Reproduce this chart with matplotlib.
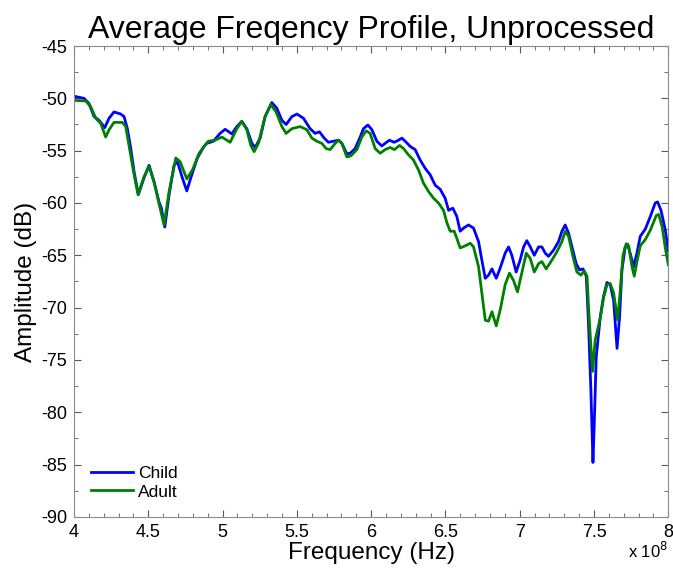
import numpy as np
import matplotlib
matplotlib.use("Agg")
import matplotlib.pyplot as plt
from matplotlib.ticker import MultipleLocator

plt.rcParams['font.family'] = ['Liberation Sans', 'DejaVu Sans']
plt.rcParams['axes.unicode_minus'] = False

# frequency in units of 1e8 Hz, amplitude in dB
child_f = [4.000, 4.067, 4.101, 4.135, 4.168, 4.207, 4.236, 4.269, 4.314, 4.337,
           4.359, 4.382, 4.404, 4.433, 4.471, 4.505, 4.539, 4.572, 4.588, 4.611,
           4.640, 4.673, 4.696, 4.729, 4.759, 4.786, 4.830, 4.875, 4.894, 4.938,
           4.983, 5.017, 5.062, 5.096, 5.129, 5.163, 5.197, 5.219, 5.253, 5.286,
           5.331, 5.365, 5.399, 5.428, 5.466, 5.500, 5.544, 5.589, 5.623, 5.652,
           5.684, 5.712, 5.746, 5.780, 5.803, 5.836, 5.859, 5.892, 5.926, 5.948,
           5.978, 6.005, 6.038, 6.072, 6.094, 6.123, 6.155, 6.184, 6.207, 6.236,
           6.263, 6.296, 6.330, 6.364, 6.397, 6.431, 6.465, 6.498, 6.521, 6.550,
           6.577, 6.599, 6.622, 6.655, 6.689, 6.723, 6.745, 6.768, 6.790, 6.813,
           6.842, 6.869, 6.902, 6.925, 6.947, 6.976, 7.003, 7.026, 7.048, 7.071,
           7.098, 7.127, 7.149, 7.172, 7.194, 7.228, 7.261, 7.284, 7.306, 7.329,
           7.352, 7.380, 7.403, 7.426, 7.448, 7.463, 7.479, 7.493, 7.502, 7.515,
           7.542, 7.564, 7.587, 7.609, 7.632, 7.655, 7.672, 7.688, 7.710, 7.726,
           7.749, 7.766, 7.789, 7.811, 7.845, 7.879, 7.912, 7.928, 7.951, 7.980,
           8.000]
child_db = [-49.8, -50.0, -50.5, -51.75, -52.1, -52.8, -51.9, -51.3, -51.5, -51.75,
            -52.9, -54.8, -57.0, -59.2, -57.6, -56.4, -58.0, -59.9, -60.5, -62.3,
            -59.2, -56.4, -56.05, -57.6, -58.85, -57.6, -55.7, -54.6, -54.3, -54.1,
            -53.35, -52.96, -53.4, -52.7, -52.2, -52.9, -54.3, -54.7, -53.8, -51.75,
            -50.4, -50.95, -52.1, -52.5, -51.75, -51.5, -51.9, -52.9, -53.35, -53.2,
            -53.8, -54.2, -54.1, -54.0, -54.3, -55.3, -55.25, -54.8, -53.7, -52.9,
            -52.55, -53.0, -54.1, -54.55, -54.3, -54.0, -54.2, -54.0, -53.8, -54.2,
            -54.6, -54.9, -55.9, -56.7, -57.3, -58.3, -58.7, -59.55, -60.7, -60.5,
            -61.3, -62.7, -62.4, -62.1, -62.4, -63.7, -65.45, -67.2, -66.9, -66.3,
            -67.2, -66.2, -64.8, -64.2, -65.0, -66.6, -65.45, -64.2, -63.6, -64.2,
            -65.0, -64.2, -64.2, -64.8, -65.1, -64.5, -63.7, -62.7, -62.1, -62.9,
            -64.2, -65.8, -66.4, -66.3, -67.0, -71.5, -77.9, -84.8, -81.0, -74.7,
            -70.9, -68.95, -67.6, -67.8, -69.3, -73.9, -70.9, -66.4, -64.2, -63.95,
            -65.1, -66.1, -64.8, -63.2, -62.5, -61.3, -60.0, -59.9, -60.7, -62.6,
            -64.6]

adult_f = [4.000, 4.079, 4.112, 4.146, 4.180, 4.213, 4.236, 4.269, 4.325, 4.348,
           4.370, 4.404, 4.431, 4.471, 4.505, 4.539, 4.584, 4.606, 4.640, 4.685,
           4.714, 4.759, 4.797, 4.842, 4.875, 4.904, 4.949, 4.995, 5.051, 5.096,
           5.129, 5.163, 5.190, 5.212, 5.241, 5.286, 5.325, 5.360, 5.399, 5.428,
           5.466, 5.522, 5.567, 5.601, 5.634, 5.668, 5.697, 5.724, 5.758, 5.780,
           5.803, 5.836, 5.863, 5.904, 5.937, 5.966, 5.993, 6.027, 6.061, 6.094,
           6.128, 6.157, 6.191, 6.218, 6.251, 6.285, 6.319, 6.352, 6.386, 6.420,
           6.453, 6.487, 6.510, 6.532, 6.559, 6.577, 6.599, 6.633, 6.667, 6.689,
           6.723, 6.745, 6.768, 6.790, 6.813, 6.842, 6.869, 6.902, 6.931, 6.958,
           6.985, 7.015, 7.044, 7.071, 7.098, 7.127, 7.149, 7.178, 7.217, 7.251,
           7.284, 7.306, 7.329, 7.358, 7.385, 7.412, 7.434, 7.453, 7.463, 7.479,
           7.490, 7.508, 7.542, 7.564, 7.587, 7.609, 7.632, 7.659, 7.677, 7.695,
           7.717, 7.733, 7.756, 7.771, 7.789, 7.811, 7.845, 7.879, 7.919, 7.936,
           7.959, 7.980, 8.000]
adult_db = [-50.2, -50.25, -50.8, -51.9, -52.4, -53.7, -53.0, -52.3, -52.3, -52.7,
            -54.5, -57.3, -59.2, -57.5, -56.5, -58.0, -60.8, -62.1, -58.9, -55.7,
            -56.05, -57.7, -56.85, -55.25, -54.6, -54.1, -54.0, -53.7, -54.2, -52.9,
            -52.2, -53.0, -54.5, -55.1, -54.3, -51.75, -50.6, -51.3, -52.7, -53.35,
            -52.9, -52.7, -53.0, -53.8, -54.1, -54.3, -54.8, -54.9, -54.3, -54.0,
            -54.3, -55.6, -55.5, -54.9, -53.7, -53.1, -53.35, -54.8, -55.25, -54.9,
            -54.7, -54.9, -54.5, -54.8, -55.4, -55.9, -56.85, -58.1, -58.9, -59.55,
            -60.0, -60.7, -61.9, -62.7, -62.7, -63.4, -64.3, -64.1, -63.85, -64.2,
            -66.1, -68.6, -71.2, -71.3, -70.4, -71.75, -70.2, -67.8, -66.7, -67.4,
            -68.5, -66.6, -64.8, -65.3, -66.6, -65.8, -65.6, -66.3, -65.45, -64.65,
            -63.7, -62.7, -63.2, -65.1, -66.6, -66.9, -66.5, -67.0, -69.9, -73.7,
            -76.1, -73.1, -71.0, -69.1, -67.8, -67.7, -68.6, -71.2, -68.3, -65.0,
            -63.9, -64.1, -66.1, -67.0, -65.6, -64.1, -63.5, -62.6, -61.2, -61.1,
            -62.3, -64.3, -65.9]

xticks = [4, 4.5, 5, 5.5, 6, 6.5, 7, 7.5, 8]
xticklabels = ['4', '4.5', '5', '5.5', '6', '6.5', '7', '7.5', '8']
yticks = list(range(-90, -44, 5))

fig = plt.figure(figsize=(6.73, 5.68), dpi=100)
ax = fig.add_axes([0.110, 0.090, 0.883, 0.829])

ax.plot(child_f, child_db, color='#0000ff', lw=2, label='Child',
        solid_joinstyle='round')
ax.plot(adult_f, adult_db, color='#008000', lw=2, label='Adult',
        solid_joinstyle='round')

ax.set_xlim(4, 8)
ax.set_ylim(-90, -45)
ax.set_xticks(xticks)
ax.set_xticklabels(xticklabels)
ax.set_yticks(yticks)
ax.xaxis.set_minor_locator(MultipleLocator(0.1))
ax.yaxis.set_minor_locator(MultipleLocator(2.5))
ax.tick_params(which='both', direction='in', top=True, right=True,
               labelsize=13, color='0.35')
ax.tick_params(which='major', length=5, pad=5)
ax.tick_params(which='minor', length=3)
for s in ax.spines.values():
    s.set_color('0.55')

ax.set_title('Average Freqency Profile, Unprocessed', fontsize=23, pad=6)
ax.set_xlabel('Frequency (Hz)', fontsize=17.5, labelpad=1)
ax.set_ylabel('Amplitude (dB)', fontsize=17.5, labelpad=3)
ax.text(1.0, -0.052, r'x 10$^{8}$', transform=ax.transAxes, ha='right',
        va='top', fontsize=12)

ax.legend(loc='lower left', frameon=False, fontsize=12.5, handlelength=2.4,
          handletextpad=0.3, labelspacing=0.2, borderaxespad=0.6)

fig.savefig('out.png', dpi=100)
